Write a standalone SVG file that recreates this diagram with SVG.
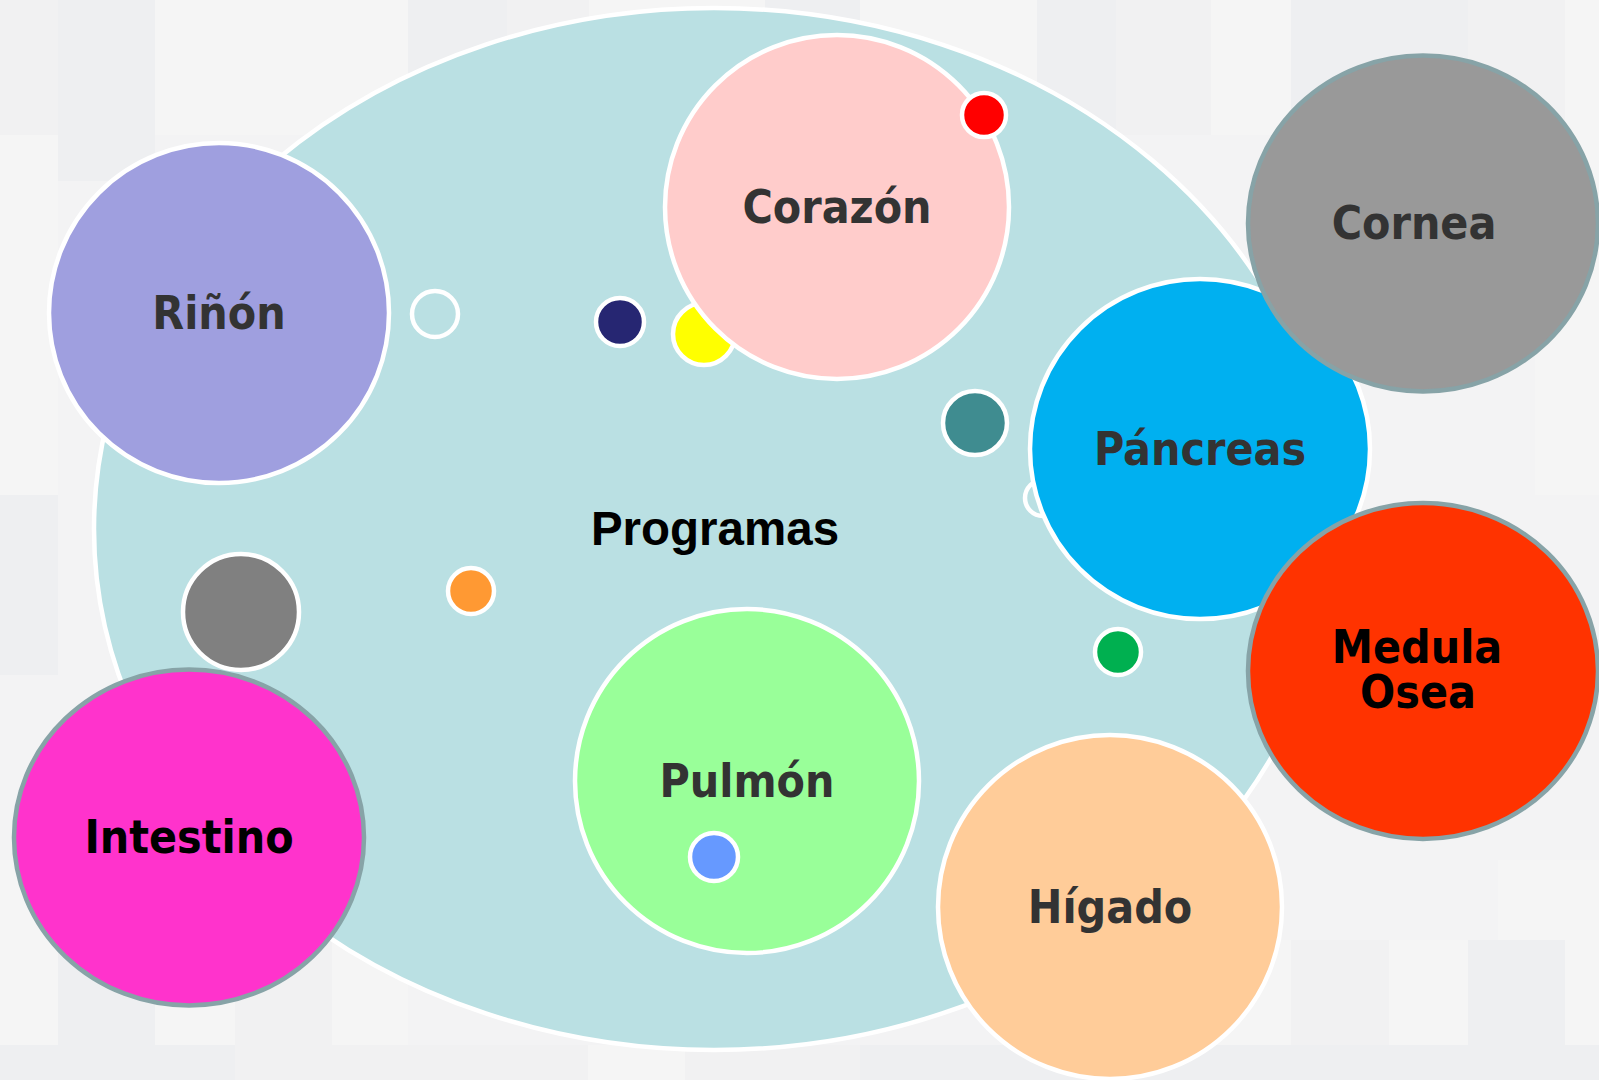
<svg xmlns="http://www.w3.org/2000/svg" width="1599" height="1080" viewBox="0 0 1599 1080">
<style>
.w{stroke:#ffffff;stroke-width:4.5}
.g{stroke:#87a3a7;stroke-width:4.5}
.lbl{font-family:'DejaVu Sans Condensed','DejaVu Sans',sans-serif;font-weight:bold;font-size:46px;text-anchor:middle;fill:#333333}
.blk{fill:#000000}
.t1{fill:#eeeff1}
.t2{fill:#f5f5f5}
.t3{fill:#f1f1f2}
</style>
<g id="background">
<rect x="0" y="0" width="1599" height="1080" fill="#f3f3f4"/>
<rect class="t3" x="0" y="0" width="58" height="135"/>
<rect class="t1" x="58" y="0" width="97" height="181"/>
<rect class="t2" x="155" y="0" width="253" height="135"/>
<rect class="t1" x="408" y="0" width="99" height="135"/>
<rect class="t3" x="507" y="0" width="82" height="135"/>
<rect class="t2" x="589" y="0" width="176" height="135"/>
<rect class="t1" x="765" y="0" width="95" height="135"/>
<rect class="t2" x="860" y="0" width="177" height="135"/>
<rect class="t1" x="1037" y="0" width="79" height="135"/>
<rect class="t3" x="1116" y="0" width="95" height="135"/>
<rect class="t2" x="1211" y="0" width="80" height="135"/>
<rect class="t1" x="1291" y="0" width="177" height="135"/>
<rect class="t3" x="1468" y="0" width="97" height="135"/>
<rect class="t2" x="1565" y="0" width="34" height="135"/>
<rect class="t2" x="0" y="135" width="58" height="360"/>
<rect class="t1" x="0" y="495" width="58" height="180"/>
<rect class="t2" x="1535" y="135" width="64" height="360"/>
<rect class="t2" x="1498" y="860" width="101" height="185"/>
<rect class="t2" x="0" y="860" width="58" height="185"/>
<rect class="t1" x="58" y="860" width="97" height="185"/>
<rect class="t2" x="155" y="860" width="80" height="185"/>
<rect class="t3" x="235" y="860" width="97" height="185"/>
<rect class="t2" x="332" y="860" width="76" height="185"/>
<rect class="t2" x="1211" y="940" width="80" height="105"/>
<rect class="t3" x="1291" y="940" width="98" height="105"/>
<rect class="t2" x="1389" y="940" width="79" height="105"/>
<rect class="t1" x="1468" y="940" width="97" height="105"/>
<rect class="t1" x="0" y="1045" width="235" height="35"/>
<rect class="t3" x="235" y="1045" width="353" height="35"/>
<rect class="t2" x="588" y="1045" width="97" height="35"/>
<rect class="t3" x="685" y="1045" width="175" height="35"/>
<rect class="t1" x="860" y="1045" width="739" height="35"/>
</g>
<g id="connectors"></g>
<g id="programas">
<ellipse cx="714" cy="529" rx="620" ry="521" fill="#bae0e3" class="w"/>
<text x="715" y="545" font-family="'Liberation Sans',Arial,sans-serif" font-weight="bold" font-size="47.5" text-anchor="middle" fill="#000000">Programas</text>
</g>
<g id="dot-ring-1"><circle cx="435" cy="314" r="23" fill="none" class="w"/></g>
<g id="dot-navy"><circle cx="620" cy="322" r="24" fill="#262672" class="w"/></g>
<g id="dot-yellow"><circle cx="704" cy="334" r="31" fill="#ffff00" class="w"/></g>
<g id="dot-teal"><circle cx="975" cy="423" r="32" fill="#3f8c90" class="w"/></g>
<g id="dot-ring-2"><circle cx="1043" cy="498" r="18" fill="none" class="w"/></g>
<g id="dot-gray"><circle cx="241" cy="612" r="58" fill="#808080" class="w"/></g>
<g id="dot-orange"><circle cx="471" cy="591" r="23" fill="#ff9933" class="w"/></g>
<g id="dot-green"><circle cx="1118" cy="652" r="23" fill="#00b050" class="w"/></g>
<g id="rinon">
<circle cx="219" cy="313" r="170" fill="#9f9fdf" class="w"/>
<text class="lbl" x="219" y="329">Riñón</text>
</g>
<g id="corazon">
<circle cx="837" cy="207" r="172" fill="#ffcccb" class="w"/>
<text class="lbl" x="837" y="223">Corazón</text>
</g>
<g id="dot-red"><circle cx="984" cy="115" r="22" fill="#ff0000" class="w"/></g>
<g id="pancreas">
<circle cx="1200" cy="449" r="170" fill="#00b0f0" class="w"/>
<text class="lbl" x="1200" y="465">Páncreas</text>
</g>
<g id="cornea">
<ellipse cx="1423" cy="223.5" rx="175" ry="168" fill="#999999" class="g"/>
<text class="lbl" x="1414" y="239">Cornea</text>
</g>
<g id="medula-osea">
<ellipse cx="1423" cy="671" rx="175" ry="168" fill="#ff3300" class="g"/>
<text class="lbl blk" x="1417" y="663">Medula</text>
<text class="lbl blk" x="1418" y="708">Osea</text>
</g>
<g id="pulmon">
<circle cx="747" cy="781" r="172" fill="#99ff99" class="w"/>
<text class="lbl" x="747" y="797">Pulmón</text>
</g>
<g id="dot-blue"><circle cx="714" cy="857" r="24" fill="#6699ff" class="w"/></g>
<g id="higado">
<circle cx="1110" cy="907" r="172" fill="#ffcc99" class="w"/>
<text class="lbl" x="1110" y="923">Hígado</text>
</g>
<g id="intestino">
<ellipse cx="189" cy="837.5" rx="175" ry="168" fill="#ff33cc" class="g"/>
<text class="lbl blk" x="189" y="853">Intestino</text>
</g>
</svg>
